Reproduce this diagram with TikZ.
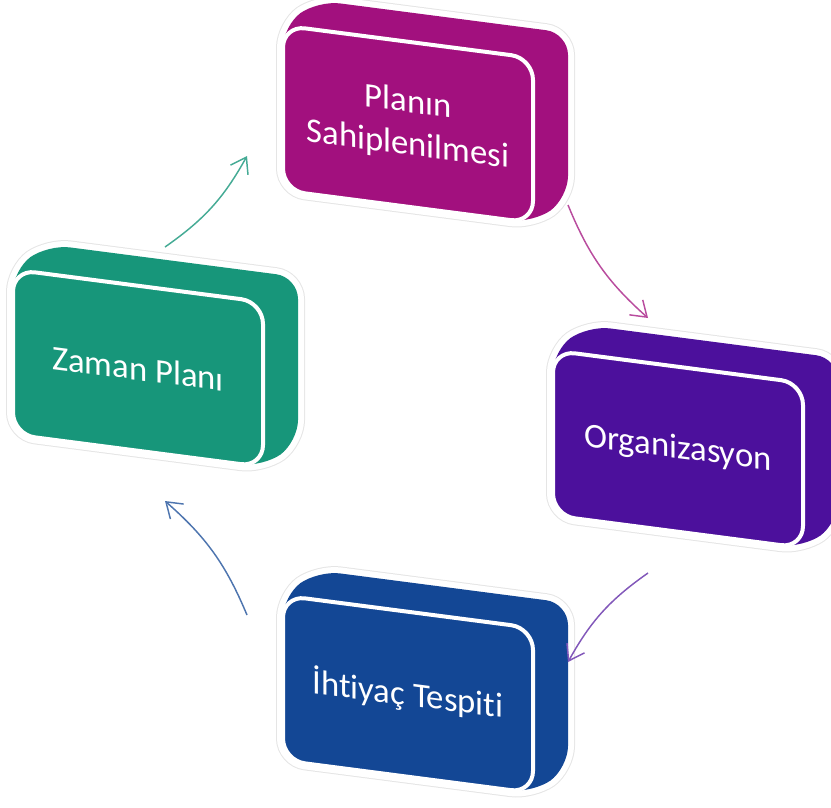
\documentclass[tikz,border=0pt]{standalone}
\usepackage{fontspec}
\setmainfont{Carlito}[RawFeature={-liga;-clig;-calt;-dlig}]
\usetikzlibrary{arrows.meta}

\definecolor{planinc}{RGB}{162,16,126}
\definecolor{zamanc}{RGB}{23,150,122}
\definecolor{orgc}{RGB}{76,16,156}
\definecolor{ihtiyacc}{RGB}{19,71,149}

\tikzset{every picture/.style={line width=0.75pt}}

\begin{document}
\begin{tikzpicture}[x=0.75pt,y=0.75pt,yscale=-1,xscale=1,
  shell/.style={fill=#1,rounded corners=16.5pt,preaction={draw=gray!20,line width=10.5pt},preaction={draw=white,line width=9pt}},
  face/.style={fill=#1,draw=white,line width=3pt,rounded corners=16.5pt},
  boxtext/.style={text=white,align=center,yslant=-0.13,font=\fontsize{26}{32}\selectfont,inner sep=0.75pt},
  flow/.style={draw=#1,line width=1.1pt,-{Straight Barb[length=11pt,width=15pt]}}]
\useasboundingbox (0,0) rectangle (831,807);

%Shape: Box [Planın Sahiplenilmesi]
\begin{scope}[shift={(283,25.5)},yslant=0.13]
\path[shell=planinc] (0,80) -- (0,0) -- (35,-29.5) -- (285,-29.5) -- (285,135.5) -- (250,165) -- (0,165) -- cycle;
\path[face=planinc] (0,80) -- (0,0) -- (250,0) -- (250,165) -- (0,165) -- cycle;
\coordinate (planin) at (125,82.5);
\end{scope}
%Shape: Box [Zaman Planı]
\begin{scope}[shift={(13,269.5)},yslant=0.13]
\path[shell=zamanc] (0,80) -- (0,0) -- (35,-29.5) -- (285,-29.5) -- (285,135.5) -- (250,165) -- (0,165) -- cycle;
\path[face=zamanc] (0,80) -- (0,0) -- (250,0) -- (250,165) -- (0,165) -- cycle;
\coordinate (zaman) at (125,82.5);
\end{scope}
%Shape: Box [Organizasyon]
\begin{scope}[shift={(553,350.5)},yslant=0.13]
\path[shell=orgc] (0,80) -- (0,0) -- (35,-29.5) -- (285,-29.5) -- (285,135.5) -- (250,165) -- (0,165) -- cycle;
\path[face=orgc] (0,80) -- (0,0) -- (250,0) -- (250,165) -- (0,165) -- cycle;
\coordinate (org) at (125,82.5);
\end{scope}
%Shape: Box [İhtiyaç Tespiti]
\begin{scope}[shift={(283,595.5)},yslant=0.13]
\path[shell=ihtiyacc] (0,80) -- (0,0) -- (35,-29.5) -- (285,-29.5) -- (285,135.5) -- (250,165) -- (0,165) -- cycle;
\path[face=ihtiyacc] (0,80) -- (0,0) -- (250,0) -- (250,165) -- (0,165) -- cycle;
\coordinate (ihtiyac) at (125,82.5);
\end{scope}

% Text Node
\node[boxtext] (planintext) at (planin) {Planın\\Sahiplenilmesi};
% Text Node
\node[boxtext] (zamantext) at (zaman) {Zaman Planı};
% Text Node
\node[boxtext] (orgtext) at (org) {Organizasyon};
% Text Node
\node[boxtext] (ihtiyactext) at (ihtiyac) {İht\kern0pt{}iyaç Tespit\kern0pt{}i};

%Arrow ends
\coordinate (zaman-out) at (165,247);
\coordinate (planin-in) at (247,156);
\coordinate (planin-out) at (568,205);
\coordinate (org-in) at (648,318);
\coordinate (org-out) at (648,573);
\coordinate (ihtiyac-in) at (568,662);
\coordinate (ihtiyac-out) at (247,615);
\coordinate (zaman-in) at (165,501);

%Curved Arrows
\draw[flow=zamanc!80!white] (zaman-out) to[bend left=13] (planin-in);
\draw[flow=planinc!75!white] (planin-out) to[bend left=13] (org-in);
\draw[flow=orgc!70!white] (org-out) to[bend left=13] (ihtiyac-in);
\draw[flow=ihtiyacc!75!white] (ihtiyac-out) to[bend left=13] (zaman-in);

\end{tikzpicture}
\end{document}
